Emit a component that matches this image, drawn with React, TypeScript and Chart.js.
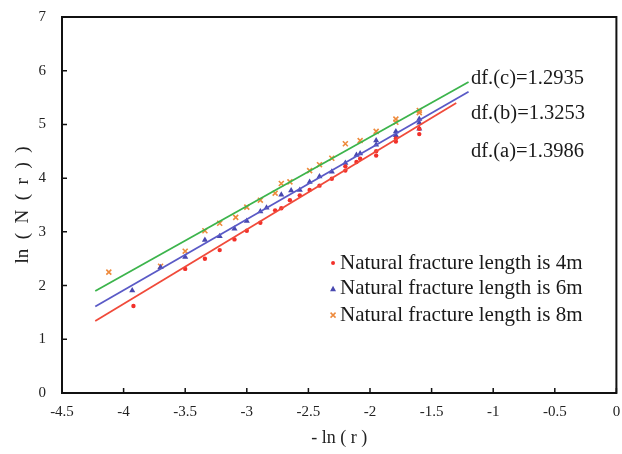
import React, { useEffect, useRef } from "react";
import { Chart, registerables } from "chart.js";
Chart.register(...registerables);

const xTicks = [-4.5, -4, -3.5, -3, -2.5, -2, -1.5, -1, -0.5, 0];
const yTicks = [0, 1, 2, 3, 4, 5, 6, 7];

const seriesNames = [
  "Natural fracture length is 4m",
  "Natural fracture length is 6m",
  "Natural fracture length is 8m",
];

const redX = [-3.92, -3.5, -3.34, -3.22, -3.1, -3.0, -2.89, -2.77, -2.72, -2.65, -2.57, -2.49, -2.41, -2.31, -2.2, -2.2, -2.11, -2.08, -1.95, -1.95, -1.79, -1.79, -1.6, -1.6];
const redY = [1.62, 2.31, 2.5, 2.66, 2.86, 3.02, 3.17, 3.4, 3.44, 3.59, 3.68, 3.78, 3.86, 3.99, 4.14, 4.22, 4.3, 4.36, 4.42, 4.5, 4.68, 4.74, 4.82, 4.92];

const blueX = [-3.93, -3.7, -3.5, -3.34, -3.22, -3.1, -3.0, -2.89, -2.84, -2.72, -2.64, -2.57, -2.49, -2.41, -2.31, -2.2, -2.11, -2.08, -1.95, -1.95, -1.79, -1.79, -1.6, -1.6, -1.6];
const blueY = [1.91, 2.34, 2.53, 2.85, 2.92, 3.06, 3.2, 3.38, 3.45, 3.69, 3.77, 3.78, 3.93, 4.03, 4.12, 4.28, 4.43, 4.46, 4.62, 4.7, 4.8, 4.87, 4.92, 5.03, 5.1];

const orangeX = [-4.12, -3.7, -3.5, -3.34, -3.22, -3.09, -3.0, -2.89, -2.77, -2.72, -2.65, -2.49, -2.41, -2.31, -2.2, -2.08, -1.95, -1.79, -1.79, -1.6, -1.6];
const orangeY = [2.25, 2.36, 2.64, 3.02, 3.16, 3.27, 3.46, 3.59, 3.72, 3.9, 3.93, 4.14, 4.25, 4.37, 4.64, 4.7, 4.87, 5.04, 5.1, 5.22, 5.26];

const fitRedX = [-4.23, -1.3];
const fitRedY = [1.34, 5.4];
const fitBlueX = [-4.23, -1.2];
const fitBlueY = [1.61, 5.61];
const fitGreenX = [-4.23, -1.2];
const fitGreenY = [1.9, 5.79];

const dfLabels = ["df.(c)=1.2935", "df.(b)=1.3253", "df.(a)=1.3986"];
const dfX = [-1.18, -1.18, -1.18];
const dfY = [5.85, 5.2, 4.49];

const xTitle = "- ln ( r )";
const yTitle = "ln  (  N  (  r  )  )";

const RED = "#f2302a";
const BLUE = "#4848b0";
const ORANGE = "#ee8a3c";
const RED_LINE = "#f04a3a";
const BLUE_LINE = "#5a5ac6";
const GREEN_LINE = "#3cb44c";

const FONT = '"Liberation Serif", "Times New Roman", serif';

const toPts = (xs: number[], ys: number[]) => xs.map((x, i) => ({ x, y: ys[i] }));

function drawMarker(ctx: CanvasRenderingContext2D, kind: string, x: number, y: number, color: string) {
  ctx.save();
  ctx.fillStyle = color;
  ctx.strokeStyle = color;
  if (kind === "circle") {
    ctx.beginPath();
    ctx.arc(x, y, 2, 0, Math.PI * 2);
    ctx.fill();
  } else if (kind === "triangle") {
    ctx.beginPath();
    ctx.moveTo(x, y - 3);
    ctx.lineTo(x + 3, y + 2.5);
    ctx.lineTo(x - 3, y + 2.5);
    ctx.closePath();
    ctx.fill();
  } else {
    ctx.lineWidth = 1.5;
    ctx.beginPath();
    ctx.moveTo(x - 2.5, y - 2.5);
    ctx.lineTo(x + 2.5, y + 2.5);
    ctx.moveTo(x + 2.5, y - 2.5);
    ctx.lineTo(x - 2.5, y + 2.5);
    ctx.stroke();
  }
  ctx.restore();
}

const overlayPlugin = {
  id: "overlay",
  afterDraw(chart: any) {
    const { ctx, chartArea: a, scales } = chart;
    const sx = scales.x;
    const sy = scales.y;
    ctx.save();
    ctx.strokeStyle = "#111";
    ctx.lineWidth = 2;
    ctx.strokeRect(a.left, a.top, a.right - a.left, a.bottom - a.top);
    ctx.lineWidth = 1.5;
    ctx.beginPath();
    xTicks.forEach((v) => {
      const px = sx.getPixelForValue(v);
      ctx.moveTo(px, a.bottom);
      ctx.lineTo(px, a.bottom - 5);
    });
    yTicks.forEach((v) => {
      const py = sy.getPixelForValue(v);
      ctx.moveTo(a.left, py);
      ctx.lineTo(a.left + 5, py);
    });
    ctx.stroke();

    ctx.fillStyle = "#1a1a1a";
    ctx.font = "20.5px " + FONT;
    ctx.textBaseline = "middle";
    ctx.textAlign = "left";
    dfLabels.forEach((t, i) => {
      ctx.fillText(t, sx.getPixelForValue(dfX[i]), sy.getPixelForValue(dfY[i]));
    });

    const kinds = ["circle", "triangle", "cross"];
    const colors = [RED, BLUE, ORANGE];
    const legX = sx.getPixelForValue(-2.3);
    const legY = [2.42, 1.94, 1.45];
    ctx.font = "21px " + FONT;
    seriesNames.forEach((name, i) => {
      const py = sy.getPixelForValue(legY[i]);
      drawMarker(ctx, kinds[i], legX, py, colors[i]);
      ctx.fillStyle = "#1a1a1a";
      ctx.fillText(name, legX + 7, py);
    });
    ctx.restore();
  },
};

export default function App() {
  const ref = useRef<HTMLCanvasElement | null>(null);
  useEffect(() => {
    document.body.style.margin = "0";
    const canvas = ref.current;
    if (!canvas) return;
    const chart = new Chart(canvas, {
      type: "scatter",
      data: {
        datasets: [
          { label: "fit a", data: toPts(fitRedX, fitRedY), showLine: true, borderColor: RED_LINE, borderWidth: 1.8, pointRadius: 0 },
          { label: "fit b", data: toPts(fitBlueX, fitBlueY), showLine: true, borderColor: BLUE_LINE, borderWidth: 1.8, pointRadius: 0 },
          { label: "fit c", data: toPts(fitGreenX, fitGreenY), showLine: true, borderColor: GREEN_LINE, borderWidth: 1.8, pointRadius: 0 },
          { label: seriesNames[0], data: toPts(redX, redY), pointStyle: "circle", pointRadius: 2.2, backgroundColor: RED, borderColor: RED, borderWidth: 0 },
          { label: seriesNames[1], data: toPts(blueX, blueY), pointStyle: "triangle", pointRadius: 3.5, backgroundColor: BLUE, borderColor: BLUE, borderWidth: 0 },
          { label: seriesNames[2], data: toPts(orangeX, orangeY), pointStyle: "crossRot", pointRadius: 3.5, backgroundColor: ORANGE, borderColor: ORANGE, borderWidth: 1.6 },
        ],
      },
      options: {
        responsive: false,
        animation: false,
        layout: { padding: { top: 17, right: 5, left: 0, bottom: 0 } },
        plugins: { legend: { display: false }, tooltip: { enabled: false } },
        scales: {
          x: {
            type: "linear",
            min: -4.5,
            max: 0,
            afterBuildTicks: (s: any) => { s.ticks = xTicks.map((v) => ({ value: v })); },
            ticks: { color: "#222", font: { family: FONT, size: 15 }, padding: 10, maxRotation: 0, autoSkip: false, callback: (v: any) => String(v) },
            grid: { display: false, drawTicks: false },
            border: { display: false },
            title: { display: true, text: xTitle, color: "#222", font: { family: FONT, size: 18 }, padding: { top: 0, bottom: 5 } },
            afterFit: (s: any) => { s.height = 61; s.paddingRight = 0; s.paddingLeft = 0; },
          },
          y: {
            type: "linear",
            min: 0,
            max: 7,
            afterBuildTicks: (s: any) => { s.ticks = yTicks.map((v) => ({ value: v })); },
            ticks: { color: "#222", font: { family: FONT, size: 15 }, padding: 16, callback: (v: any) => String(v) },
            grid: { display: false, drawTicks: false },
            border: { display: false },
            title: { display: true, text: yTitle, color: "#222", font: { family: FONT, size: 19 }, padding: { top: 12, bottom: 0 } },
            afterFit: (s: any) => { s.width = 62; s.paddingTop = 0; s.paddingBottom = 0; },
          },
        },
      } as any,
      plugins: [overlayPlugin],
    });
    return () => chart.destroy();
  }, []);
  return <canvas ref={ref} width={622} height={454} style={{ display: "block", width: 622, height: 454 }} />;
}
